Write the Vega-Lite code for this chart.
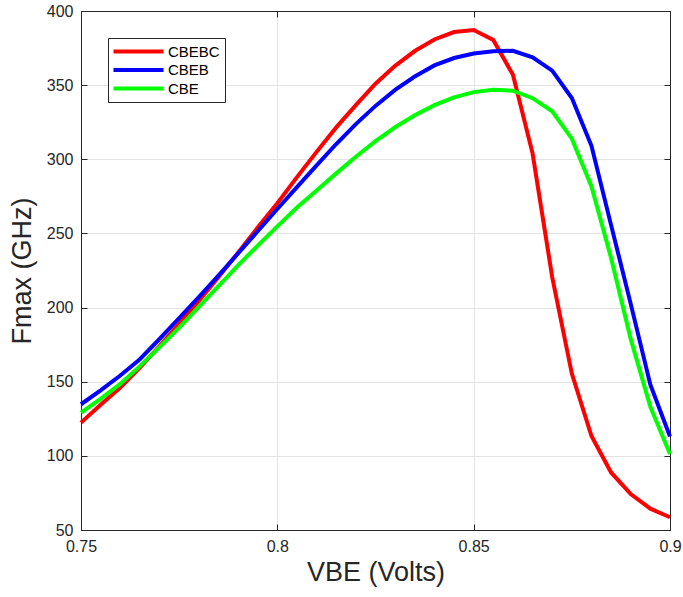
{
  "$schema": "https://vega.github.io/schema/vega-lite/v6.json",
  "width": 589,
  "height": 519,
  "autosize": {"type": "none"},
  "padding": {"left": 81, "top": 11, "right": 13, "bottom": 67},
  "config": {
    "font": "Liberation Sans",
    "view": {"stroke": "#262626", "strokeWidth": 1},
    "axis": {
      "domainColor": "#262626",
      "tickColor": "#262626",
      "labelColor": "#262626",
      "titleColor": "#262626",
      "gridColor": "#e3e3e3",
      "labelFontSize": 16,
      "titleFontSize": 27,
      "titleFontWeight": "normal",
      "tickSize": -6,
      "labelFlush": false
    }
  },
  "datasets": {
    "d": [
      {"v": 0.75, "f": 122.4, "s": "CBEBC"}, {"v": 0.755, "f": 134.5, "s": "CBEBC"}, {"v": 0.76, "f": 146, "s": "CBEBC"},
      {"v": 0.765, "f": 159.5, "s": "CBEBC"}, {"v": 0.77, "f": 174, "s": "CBEBC"}, {"v": 0.775, "f": 189, "s": "CBEBC"},
      {"v": 0.78, "f": 204.5, "s": "CBEBC"}, {"v": 0.785, "f": 220.5, "s": "CBEBC"}, {"v": 0.79, "f": 237, "s": "CBEBC"},
      {"v": 0.795, "f": 254, "s": "CBEBC"}, {"v": 0.8, "f": 270.4, "s": "CBEBC"}, {"v": 0.805, "f": 288, "s": "CBEBC"},
      {"v": 0.81, "f": 305, "s": "CBEBC"}, {"v": 0.815, "f": 321.5, "s": "CBEBC"}, {"v": 0.82, "f": 336.5, "s": "CBEBC"},
      {"v": 0.825, "f": 351, "s": "CBEBC"}, {"v": 0.83, "f": 363, "s": "CBEBC"}, {"v": 0.835, "f": 373, "s": "CBEBC"},
      {"v": 0.84, "f": 380.8, "s": "CBEBC"}, {"v": 0.845, "f": 385.8, "s": "CBEBC"}, {"v": 0.85, "f": 387.2, "s": "CBEBC"},
      {"v": 0.855, "f": 380.5, "s": "CBEBC"}, {"v": 0.86, "f": 357, "s": "CBEBC"}, {"v": 0.865, "f": 304, "s": "CBEBC"},
      {"v": 0.87, "f": 220.6, "s": "CBEBC"}, {"v": 0.875, "f": 155.5, "s": "CBEBC"}, {"v": 0.88, "f": 113.4, "s": "CBEBC"},
      {"v": 0.885, "f": 88.8, "s": "CBEBC"}, {"v": 0.89, "f": 74.2, "s": "CBEBC"}, {"v": 0.895, "f": 64.4, "s": "CBEBC"},
      {"v": 0.9, "f": 58.6, "s": "CBEBC"},
      {"v": 0.75, "f": 134.8, "s": "CBEB"}, {"v": 0.755, "f": 144.2, "s": "CBEB"}, {"v": 0.76, "f": 154.2, "s": "CBEB"},
      {"v": 0.765, "f": 165.2, "s": "CBEB"}, {"v": 0.77, "f": 178.8, "s": "CBEB"}, {"v": 0.775, "f": 192.8, "s": "CBEB"},
      {"v": 0.78, "f": 207, "s": "CBEB"}, {"v": 0.785, "f": 221.5, "s": "CBEB"}, {"v": 0.79, "f": 236.5, "s": "CBEB"},
      {"v": 0.795, "f": 251.5, "s": "CBEB"}, {"v": 0.8, "f": 266.5, "s": "CBEB"}, {"v": 0.805, "f": 281.2, "s": "CBEB"},
      {"v": 0.81, "f": 295.9, "s": "CBEB"}, {"v": 0.815, "f": 310.3, "s": "CBEB"}, {"v": 0.82, "f": 323.7, "s": "CBEB"},
      {"v": 0.825, "f": 336, "s": "CBEB"}, {"v": 0.83, "f": 346.8, "s": "CBEB"}, {"v": 0.835, "f": 355.8, "s": "CBEB"},
      {"v": 0.84, "f": 363.3, "s": "CBEB"}, {"v": 0.845, "f": 368.3, "s": "CBEB"}, {"v": 0.85, "f": 371.3, "s": "CBEB"},
      {"v": 0.855, "f": 372.8, "s": "CBEB"}, {"v": 0.86, "f": 373.2, "s": "CBEB"}, {"v": 0.865, "f": 368.7, "s": "CBEB"},
      {"v": 0.87, "f": 359.8, "s": "CBEB"}, {"v": 0.875, "f": 341.3, "s": "CBEB"}, {"v": 0.88, "f": 309.1, "s": "CBEB"},
      {"v": 0.885, "f": 255.6, "s": "CBEB"}, {"v": 0.89, "f": 202.5, "s": "CBEB"}, {"v": 0.895, "f": 148, "s": "CBEB"},
      {"v": 0.9, "f": 113, "s": "CBEB"},
      {"v": 0.75, "f": 129.1, "s": "CBE"}, {"v": 0.755, "f": 138.5, "s": "CBE"}, {"v": 0.76, "f": 148.5, "s": "CBE"},
      {"v": 0.765, "f": 160.5, "s": "CBE"}, {"v": 0.77, "f": 173.3, "s": "CBE"}, {"v": 0.775, "f": 186.5, "s": "CBE"},
      {"v": 0.78, "f": 200.4, "s": "CBE"}, {"v": 0.785, "f": 214.5, "s": "CBE"}, {"v": 0.79, "f": 228.5, "s": "CBE"},
      {"v": 0.795, "f": 241.8, "s": "CBE"}, {"v": 0.8, "f": 254.8, "s": "CBE"}, {"v": 0.805, "f": 267.5, "s": "CBE"},
      {"v": 0.81, "f": 279, "s": "CBE"}, {"v": 0.815, "f": 290.5, "s": "CBE"}, {"v": 0.82, "f": 301.7, "s": "CBE"},
      {"v": 0.825, "f": 312.2, "s": "CBE"}, {"v": 0.83, "f": 321.6, "s": "CBE"}, {"v": 0.835, "f": 329.7, "s": "CBE"},
      {"v": 0.84, "f": 336.5, "s": "CBE"}, {"v": 0.845, "f": 341.8, "s": "CBE"}, {"v": 0.85, "f": 345.3, "s": "CBE"},
      {"v": 0.855, "f": 346.9, "s": "CBE"}, {"v": 0.86, "f": 346.3, "s": "CBE"}, {"v": 0.865, "f": 341.2, "s": "CBE"},
      {"v": 0.87, "f": 332.4, "s": "CBE"}, {"v": 0.875, "f": 313.9, "s": "CBE"}, {"v": 0.88, "f": 281.7, "s": "CBE"},
      {"v": 0.885, "f": 233.4, "s": "CBE"}, {"v": 0.89, "f": 178.7, "s": "CBE"}, {"v": 0.895, "f": 133, "s": "CBE"},
      {"v": 0.9, "f": 101.3, "s": "CBE"}
    ]
  },
  "layer": [
    {
      "data": {"name": "d"},
      "mark": {"type": "line", "strokeWidth": 4},
      "encoding": {
        "x": {
          "field": "v", "type": "quantitative",
          "scale": {"domain": [0.75, 0.9], "nice": false, "zero": false},
          "axis": {"orient": "bottom", "values": [0.75, 0.8, 0.85, 0.9], "format": "~g", "title": "VBE (Volts)", "grid": true, "labelPadding": 14, "titlePadding": 5}
        },
        "y": {
          "field": "f", "type": "quantitative",
          "scale": {"domain": [50, 400], "nice": false, "zero": false},
          "axis": {"orient": "left", "values": [50, 100, 150, 200, 250, 300, 350, 400], "title": "Fmax (GHz)", "grid": true, "labelPadding": 14, "titlePadding": 10}
        },
        "color": {
          "field": "s", "type": "nominal",
          "scale": {"domain": ["CBEBC", "CBEB", "CBE"], "range": ["#ff0000", "#0000ff", "#00ff00"]},
          "legend": {
            "orient": "none", "legendX": 27, "legendY": 27, "title": null,
            "strokeColor": "#262626", "fillColor": "#ffffff", "padding": 5,
            "symbolType": "M-4,0H4", "symbolSize": 156.25, "symbolStrokeWidth": 4, "symbolOffset": 17,
            "labelFontSize": 15, "labelColor": "#000000", "labelOffset": 21, "rowPadding": 1.5
          }
        }
      }
    },
    {
      "data": {"name": "d"},
      "mark": {"type": "point", "opacity": 0},
      "encoding": {
        "x": {"field": "v", "type": "quantitative", "axis": {"orient": "top", "values": [0.75, 0.8, 0.85, 0.9], "labels": false, "title": null, "grid": false}},
        "y": {"field": "f", "type": "quantitative", "axis": {"orient": "right", "values": [50, 100, 150, 200, 250, 300, 350, 400], "labels": false, "title": null, "grid": false}}
      }
    }
  ],
  "resolve": {"axis": {"x": "independent", "y": "independent"}}
}
